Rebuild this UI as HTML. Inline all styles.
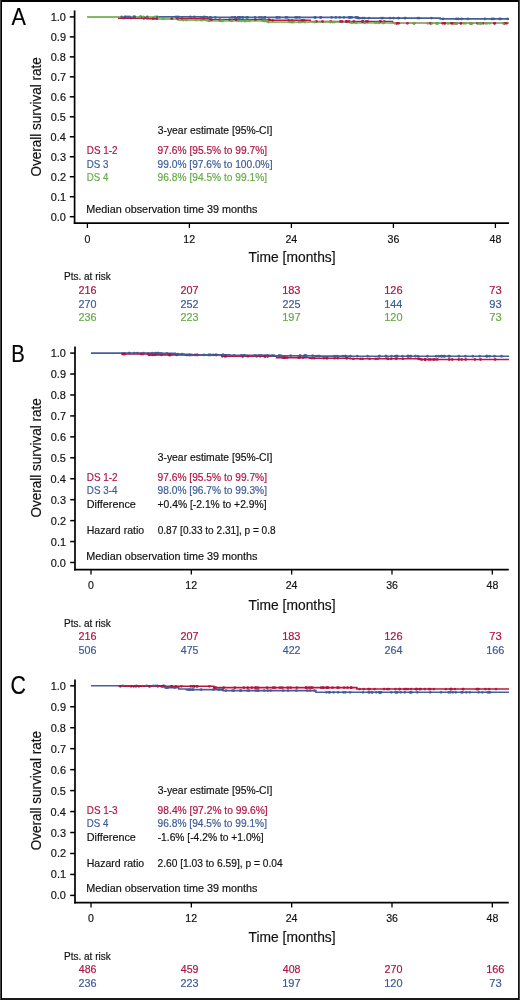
<!DOCTYPE html>
<html><head><meta charset="utf-8"><style>
html,body{margin:0;padding:0;background:#fff;}
body{width:520px;height:1000px;overflow:hidden;position:relative;font-family:"Liberation Sans", sans-serif;}
svg{position:absolute;left:0;top:0;will-change:transform;}
svg text{font-family:"Liberation Sans", sans-serif;stroke:currentColor;stroke-width:0.18px;}
.frame{position:absolute;left:0;top:0;width:516px;height:996px;border:2px solid #000;}
</style></head><body>
<svg width="520" height="1000" viewBox="0 0 520 1000">
<line x1="74.60" y1="10.40" x2="74.60" y2="224.00" stroke="#000" stroke-width="1.7"/>
<line x1="73.80" y1="223.20" x2="509.00" y2="223.20" stroke="#000" stroke-width="1.7"/>
<line x1="69.80" y1="16.90" x2="74.60" y2="16.90" stroke="#000" stroke-width="1.5"/>
<text x="50.69" y="20.90" font-size="11.3" textLength="15.24" lengthAdjust="spacingAndGlyphs" fill="#111" color="#111">1.0</text>
<line x1="69.80" y1="36.88" x2="74.60" y2="36.88" stroke="#000" stroke-width="1.5"/>
<text x="50.78" y="40.88" font-size="11.3" textLength="15.24" lengthAdjust="spacingAndGlyphs" fill="#111" color="#111">0.9</text>
<line x1="69.80" y1="56.86" x2="74.60" y2="56.86" stroke="#000" stroke-width="1.5"/>
<text x="50.74" y="60.86" font-size="11.3" textLength="15.24" lengthAdjust="spacingAndGlyphs" fill="#111" color="#111">0.8</text>
<line x1="69.80" y1="76.84" x2="74.60" y2="76.84" stroke="#000" stroke-width="1.5"/>
<text x="50.81" y="80.84" font-size="11.3" textLength="15.24" lengthAdjust="spacingAndGlyphs" fill="#111" color="#111">0.7</text>
<line x1="69.80" y1="96.82" x2="74.60" y2="96.82" stroke="#000" stroke-width="1.5"/>
<text x="50.75" y="100.82" font-size="11.3" textLength="15.24" lengthAdjust="spacingAndGlyphs" fill="#111" color="#111">0.6</text>
<line x1="69.80" y1="116.80" x2="74.60" y2="116.80" stroke="#000" stroke-width="1.5"/>
<text x="50.72" y="120.80" font-size="11.3" textLength="15.24" lengthAdjust="spacingAndGlyphs" fill="#111" color="#111">0.5</text>
<line x1="69.80" y1="136.78" x2="74.60" y2="136.78" stroke="#000" stroke-width="1.5"/>
<text x="50.58" y="140.78" font-size="11.3" textLength="15.24" lengthAdjust="spacingAndGlyphs" fill="#111" color="#111">0.4</text>
<line x1="69.80" y1="156.76" x2="74.60" y2="156.76" stroke="#000" stroke-width="1.5"/>
<text x="50.75" y="160.76" font-size="11.3" textLength="15.24" lengthAdjust="spacingAndGlyphs" fill="#111" color="#111">0.3</text>
<line x1="69.80" y1="176.74" x2="74.60" y2="176.74" stroke="#000" stroke-width="1.5"/>
<text x="50.81" y="180.74" font-size="11.3" textLength="15.24" lengthAdjust="spacingAndGlyphs" fill="#111" color="#111">0.2</text>
<line x1="69.80" y1="196.72" x2="74.60" y2="196.72" stroke="#000" stroke-width="1.5"/>
<text x="50.80" y="200.72" font-size="11.3" textLength="15.24" lengthAdjust="spacingAndGlyphs" fill="#111" color="#111">0.1</text>
<line x1="69.80" y1="216.70" x2="74.60" y2="216.70" stroke="#000" stroke-width="1.5"/>
<text x="50.69" y="220.70" font-size="11.3" textLength="15.24" lengthAdjust="spacingAndGlyphs" fill="#111" color="#111">0.0</text>
<line x1="87.40" y1="223.20" x2="87.40" y2="228.00" stroke="#000" stroke-width="1.3"/>
<text x="84.45" y="242.80" font-size="11.4" textLength="5.90" lengthAdjust="spacingAndGlyphs" fill="#111" color="#111">0</text>
<line x1="189.40" y1="223.20" x2="189.40" y2="228.00" stroke="#000" stroke-width="1.3"/>
<text x="183.37" y="242.80" font-size="11.4" textLength="11.79" lengthAdjust="spacingAndGlyphs" fill="#111" color="#111">12</text>
<line x1="291.40" y1="223.20" x2="291.40" y2="228.00" stroke="#000" stroke-width="1.3"/>
<text x="285.39" y="242.80" font-size="11.4" textLength="11.79" lengthAdjust="spacingAndGlyphs" fill="#111" color="#111">24</text>
<line x1="393.40" y1="223.20" x2="393.40" y2="228.00" stroke="#000" stroke-width="1.3"/>
<text x="387.54" y="242.80" font-size="11.4" textLength="11.79" lengthAdjust="spacingAndGlyphs" fill="#111" color="#111">36</text>
<line x1="495.40" y1="223.20" x2="495.40" y2="228.00" stroke="#000" stroke-width="1.3"/>
<text x="489.61" y="242.80" font-size="11.4" textLength="11.79" lengthAdjust="spacingAndGlyphs" fill="#111" color="#111">48</text>
<text x="11.46" y="25.20" font-size="24.6" textLength="14.39" lengthAdjust="spacingAndGlyphs" fill="#000" color="#000">A</text>
<text transform="translate(40.90,175.80) rotate(-90)" x="-0.63" y="0" font-size="14.2" textLength="119.23" lengthAdjust="spacingAndGlyphs" fill="#111" color="#111">Overall survival rate</text>
<text x="248.60" y="262.40" font-size="14.0" textLength="86.98" lengthAdjust="spacingAndGlyphs" fill="#111" color="#111">Time [months]</text>
<text x="157.71" y="133.90" font-size="10.7" textLength="114.63" lengthAdjust="spacingAndGlyphs" fill="#111" color="#111">3-year estimate [95%-CI]</text>
<text x="86.79" y="153.70" font-size="10.7" textLength="30.81" lengthAdjust="spacingAndGlyphs" fill="#ad1442" color="#ad1442">DS 1-2</text>
<text x="157.62" y="153.70" font-size="10.7" textLength="109.50" lengthAdjust="spacingAndGlyphs" fill="#ad1442" color="#ad1442">97.6% [95.5% to 99.7%]</text>
<text x="86.80" y="167.50" font-size="10.7" textLength="21.73" lengthAdjust="spacingAndGlyphs" fill="#3c5a96" color="#3c5a96">DS 3</text>
<text x="157.62" y="167.50" font-size="10.7" textLength="114.90" lengthAdjust="spacingAndGlyphs" fill="#3c5a96" color="#3c5a96">99.0% [97.6% to 100.0%]</text>
<text x="86.80" y="181.10" font-size="10.7" textLength="21.58" lengthAdjust="spacingAndGlyphs" fill="#64aa46" color="#64aa46">DS 4</text>
<text x="157.62" y="181.10" font-size="10.7" textLength="109.50" lengthAdjust="spacingAndGlyphs" fill="#64aa46" color="#64aa46">96.8% [94.5% to 99.1%]</text>
<text x="86.31" y="213.10" font-size="10.7" textLength="171.07" lengthAdjust="spacingAndGlyphs" fill="#111" color="#111">Median observation time 39 months</text>
<text x="63.98" y="279.90" font-size="10.6" textLength="46.82" lengthAdjust="spacingAndGlyphs" fill="#111" color="#111">Pts. at risk</text>
<text x="78.46" y="293.60" font-size="10.2" textLength="18.02" lengthAdjust="spacingAndGlyphs" fill="#ad1442" color="#ad1442">216</text>
<text x="180.46" y="293.60" font-size="10.2" textLength="18.09" lengthAdjust="spacingAndGlyphs" fill="#ad1442" color="#ad1442">207</text>
<text x="282.17" y="293.60" font-size="10.2" textLength="18.32" lengthAdjust="spacingAndGlyphs" fill="#ad1442" color="#ad1442">183</text>
<text x="384.27" y="293.60" font-size="10.2" textLength="18.32" lengthAdjust="spacingAndGlyphs" fill="#ad1442" color="#ad1442">126</text>
<text x="489.23" y="293.60" font-size="10.2" textLength="12.47" lengthAdjust="spacingAndGlyphs" fill="#ad1442" color="#ad1442">73</text>
<text x="78.46" y="307.50" font-size="10.2" textLength="17.96" lengthAdjust="spacingAndGlyphs" fill="#3c5a96" color="#3c5a96">270</text>
<text x="180.46" y="307.50" font-size="10.2" textLength="18.09" lengthAdjust="spacingAndGlyphs" fill="#3c5a96" color="#3c5a96">252</text>
<text x="282.46" y="307.50" font-size="10.2" textLength="18.00" lengthAdjust="spacingAndGlyphs" fill="#3c5a96" color="#3c5a96">225</text>
<text x="384.27" y="307.50" font-size="10.2" textLength="18.15" lengthAdjust="spacingAndGlyphs" fill="#3c5a96" color="#3c5a96">144</text>
<text x="489.28" y="307.50" font-size="10.2" textLength="12.42" lengthAdjust="spacingAndGlyphs" fill="#3c5a96" color="#3c5a96">93</text>
<text x="78.46" y="320.50" font-size="10.2" textLength="18.02" lengthAdjust="spacingAndGlyphs" fill="#64aa46" color="#64aa46">236</text>
<text x="180.46" y="320.50" font-size="10.2" textLength="18.02" lengthAdjust="spacingAndGlyphs" fill="#64aa46" color="#64aa46">223</text>
<text x="282.16" y="320.50" font-size="10.2" textLength="18.39" lengthAdjust="spacingAndGlyphs" fill="#64aa46" color="#64aa46">197</text>
<text x="384.27" y="320.50" font-size="10.2" textLength="18.26" lengthAdjust="spacingAndGlyphs" fill="#64aa46" color="#64aa46">120</text>
<text x="489.23" y="320.50" font-size="10.2" textLength="12.47" lengthAdjust="spacingAndGlyphs" fill="#64aa46" color="#64aa46">73</text>
<path d="M118.00,18.10H146.90V18.70H208.10V19.70H270.15V20.30H310.10V21.50H392.55V23.29H509.00V23.29" fill="none" stroke="#c0143c" stroke-width="1.6"/>
<path d="M87.40,16.90H207.25V17.40H357.70V18.10H440.15V18.90H509.00V18.90" fill="none" stroke="#44609b" stroke-width="1.6"/>
<path d="M87.40,16.90H157.95V18.50H178.35V20.10H208.10V20.90H267.60V22.09H350.05V22.89H390.00V23.29H509.00V23.29" fill="none" stroke="#86bb68" stroke-width="1.6"/>
<circle cx="211.49" cy="19.70" r="1.4" fill="#ad1442" fill-opacity="0.85"/>
<circle cx="330.72" cy="21.50" r="1.4" fill="#ad1442" fill-opacity="0.85"/>
<circle cx="262.87" cy="19.70" r="1.4" fill="#ad1442" fill-opacity="0.85"/>
<circle cx="353.96" cy="21.50" r="1.4" fill="#ad1442" fill-opacity="0.85"/>
<circle cx="362.44" cy="21.50" r="1.4" fill="#ad1442" fill-opacity="0.85"/>
<circle cx="144.36" cy="18.10" r="1.4" fill="#ad1442" fill-opacity="0.85"/>
<circle cx="123.98" cy="18.10" r="1.4" fill="#ad1442" fill-opacity="0.85"/>
<circle cx="444.88" cy="23.29" r="1.4" fill="#ad1442" fill-opacity="0.85"/>
<circle cx="219.82" cy="19.70" r="1.4" fill="#ad1442" fill-opacity="0.85"/>
<circle cx="210.08" cy="19.70" r="1.4" fill="#ad1442" fill-opacity="0.85"/>
<circle cx="506.45" cy="23.29" r="1.4" fill="#ad1442" fill-opacity="0.85"/>
<circle cx="301.92" cy="20.30" r="1.4" fill="#ad1442" fill-opacity="0.85"/>
<circle cx="444.48" cy="23.29" r="1.4" fill="#ad1442" fill-opacity="0.85"/>
<circle cx="304.29" cy="20.30" r="1.4" fill="#ad1442" fill-opacity="0.85"/>
<circle cx="367.64" cy="21.50" r="1.4" fill="#ad1442" fill-opacity="0.85"/>
<circle cx="177.48" cy="18.70" r="1.4" fill="#ad1442" fill-opacity="0.85"/>
<circle cx="366.00" cy="21.50" r="1.4" fill="#ad1442" fill-opacity="0.85"/>
<circle cx="456.78" cy="23.29" r="1.4" fill="#ad1442" fill-opacity="0.85"/>
<circle cx="322.52" cy="21.50" r="1.4" fill="#ad1442" fill-opacity="0.85"/>
<circle cx="407.42" cy="23.29" r="1.4" fill="#ad1442" fill-opacity="0.85"/>
<circle cx="380.23" cy="21.50" r="1.4" fill="#ad1442" fill-opacity="0.85"/>
<circle cx="143.78" cy="18.10" r="1.4" fill="#ad1442" fill-opacity="0.85"/>
<circle cx="414.03" cy="23.29" r="1.4" fill="#ad1442" fill-opacity="0.85"/>
<circle cx="348.97" cy="21.50" r="1.4" fill="#ad1442" fill-opacity="0.85"/>
<circle cx="236.13" cy="19.70" r="1.4" fill="#ad1442" fill-opacity="0.85"/>
<circle cx="130.92" cy="18.10" r="1.4" fill="#ad1442" fill-opacity="0.85"/>
<circle cx="455.80" cy="23.29" r="1.4" fill="#ad1442" fill-opacity="0.85"/>
<circle cx="302.89" cy="20.30" r="1.4" fill="#ad1442" fill-opacity="0.85"/>
<circle cx="398.69" cy="23.29" r="1.4" fill="#ad1442" fill-opacity="0.85"/>
<circle cx="460.97" cy="23.29" r="1.4" fill="#ad1442" fill-opacity="0.85"/>
<circle cx="396.86" cy="23.29" r="1.4" fill="#ad1442" fill-opacity="0.85"/>
<circle cx="477.43" cy="23.29" r="1.4" fill="#ad1442" fill-opacity="0.85"/>
<circle cx="272.61" cy="20.30" r="1.4" fill="#ad1442" fill-opacity="0.85"/>
<circle cx="430.64" cy="23.29" r="1.4" fill="#ad1442" fill-opacity="0.85"/>
<circle cx="291.94" cy="20.30" r="1.4" fill="#ad1442" fill-opacity="0.85"/>
<circle cx="483.07" cy="23.29" r="1.4" fill="#ad1442" fill-opacity="0.85"/>
<circle cx="460.99" cy="23.29" r="1.4" fill="#ad1442" fill-opacity="0.85"/>
<circle cx="156.79" cy="18.70" r="1.4" fill="#ad1442" fill-opacity="0.85"/>
<circle cx="171.78" cy="18.70" r="1.4" fill="#ad1442" fill-opacity="0.85"/>
<circle cx="203.32" cy="18.70" r="1.4" fill="#ad1442" fill-opacity="0.85"/>
<circle cx="494.71" cy="23.29" r="1.4" fill="#ad1442" fill-opacity="0.85"/>
<circle cx="288.65" cy="20.30" r="1.4" fill="#ad1442" fill-opacity="0.85"/>
<circle cx="362.80" cy="21.50" r="1.4" fill="#ad1442" fill-opacity="0.85"/>
<circle cx="236.04" cy="19.70" r="1.4" fill="#ad1442" fill-opacity="0.85"/>
<circle cx="316.32" cy="21.50" r="1.4" fill="#ad1442" fill-opacity="0.85"/>
<circle cx="269.07" cy="19.70" r="1.4" fill="#ad1442" fill-opacity="0.85"/>
<circle cx="255.46" cy="19.70" r="1.4" fill="#ad1442" fill-opacity="0.85"/>
<circle cx="346.62" cy="21.50" r="1.4" fill="#ad1442" fill-opacity="0.85"/>
<circle cx="346.30" cy="21.50" r="1.4" fill="#ad1442" fill-opacity="0.85"/>
<circle cx="470.86" cy="23.29" r="1.4" fill="#ad1442" fill-opacity="0.85"/>
<circle cx="384.35" cy="21.50" r="1.4" fill="#ad1442" fill-opacity="0.85"/>
<circle cx="480.49" cy="23.29" r="1.4" fill="#ad1442" fill-opacity="0.85"/>
<circle cx="452.25" cy="23.29" r="1.4" fill="#ad1442" fill-opacity="0.85"/>
<circle cx="504.64" cy="23.29" r="1.4" fill="#ad1442" fill-opacity="0.85"/>
<circle cx="380.18" cy="21.50" r="1.4" fill="#ad1442" fill-opacity="0.85"/>
<circle cx="182.34" cy="18.70" r="1.4" fill="#ad1442" fill-opacity="0.85"/>
<circle cx="453.90" cy="23.29" r="1.4" fill="#ad1442" fill-opacity="0.85"/>
<circle cx="494.38" cy="23.29" r="1.4" fill="#ad1442" fill-opacity="0.85"/>
<circle cx="471.05" cy="23.29" r="1.4" fill="#ad1442" fill-opacity="0.85"/>
<circle cx="340.40" cy="21.50" r="1.4" fill="#ad1442" fill-opacity="0.85"/>
<circle cx="396.74" cy="23.29" r="1.4" fill="#ad1442" fill-opacity="0.85"/>
<circle cx="201.04" cy="18.70" r="1.4" fill="#ad1442" fill-opacity="0.85"/>
<circle cx="442.59" cy="23.29" r="1.4" fill="#ad1442" fill-opacity="0.85"/>
<circle cx="342.13" cy="21.50" r="1.4" fill="#ad1442" fill-opacity="0.85"/>
<circle cx="229.78" cy="19.70" r="1.4" fill="#ad1442" fill-opacity="0.85"/>
<circle cx="143.56" cy="18.10" r="1.4" fill="#ad1442" fill-opacity="0.85"/>
<circle cx="451.29" cy="23.29" r="1.4" fill="#ad1442" fill-opacity="0.85"/>
<circle cx="504.18" cy="23.29" r="1.4" fill="#ad1442" fill-opacity="0.85"/>
<circle cx="153.31" cy="18.70" r="1.4" fill="#ad1442" fill-opacity="0.85"/>
<circle cx="430.52" cy="23.29" r="1.4" fill="#ad1442" fill-opacity="0.85"/>
<circle cx="277.64" cy="17.40" r="1.4" fill="#3c5a96" fill-opacity="0.85"/>
<circle cx="176.10" cy="16.90" r="1.4" fill="#3c5a96" fill-opacity="0.85"/>
<circle cx="232.06" cy="17.40" r="1.4" fill="#3c5a96" fill-opacity="0.85"/>
<circle cx="417.75" cy="18.10" r="1.4" fill="#3c5a96" fill-opacity="0.85"/>
<circle cx="458.40" cy="18.90" r="1.4" fill="#3c5a96" fill-opacity="0.85"/>
<circle cx="134.43" cy="16.90" r="1.4" fill="#3c5a96" fill-opacity="0.85"/>
<circle cx="357.43" cy="17.40" r="1.4" fill="#3c5a96" fill-opacity="0.85"/>
<circle cx="134.72" cy="16.90" r="1.4" fill="#3c5a96" fill-opacity="0.85"/>
<circle cx="398.06" cy="18.10" r="1.4" fill="#3c5a96" fill-opacity="0.85"/>
<circle cx="246.55" cy="17.40" r="1.4" fill="#3c5a96" fill-opacity="0.85"/>
<circle cx="461.58" cy="18.90" r="1.4" fill="#3c5a96" fill-opacity="0.85"/>
<circle cx="500.58" cy="18.90" r="1.4" fill="#3c5a96" fill-opacity="0.85"/>
<circle cx="314.77" cy="17.40" r="1.4" fill="#3c5a96" fill-opacity="0.85"/>
<circle cx="507.57" cy="18.90" r="1.4" fill="#3c5a96" fill-opacity="0.85"/>
<circle cx="238.23" cy="17.40" r="1.4" fill="#3c5a96" fill-opacity="0.85"/>
<circle cx="147.25" cy="16.90" r="1.4" fill="#3c5a96" fill-opacity="0.85"/>
<circle cx="351.66" cy="17.40" r="1.4" fill="#3c5a96" fill-opacity="0.85"/>
<circle cx="129.42" cy="16.90" r="1.4" fill="#3c5a96" fill-opacity="0.85"/>
<circle cx="194.33" cy="16.90" r="1.4" fill="#3c5a96" fill-opacity="0.85"/>
<circle cx="276.65" cy="17.40" r="1.4" fill="#3c5a96" fill-opacity="0.85"/>
<circle cx="355.84" cy="17.40" r="1.4" fill="#3c5a96" fill-opacity="0.85"/>
<circle cx="178.22" cy="16.90" r="1.4" fill="#3c5a96" fill-opacity="0.85"/>
<circle cx="133.74" cy="16.90" r="1.4" fill="#3c5a96" fill-opacity="0.85"/>
<circle cx="456.45" cy="18.90" r="1.4" fill="#3c5a96" fill-opacity="0.85"/>
<circle cx="239.86" cy="17.40" r="1.4" fill="#3c5a96" fill-opacity="0.85"/>
<circle cx="491.99" cy="18.90" r="1.4" fill="#3c5a96" fill-opacity="0.85"/>
<circle cx="467.74" cy="18.90" r="1.4" fill="#3c5a96" fill-opacity="0.85"/>
<circle cx="264.87" cy="17.40" r="1.4" fill="#3c5a96" fill-opacity="0.85"/>
<circle cx="297.17" cy="17.40" r="1.4" fill="#3c5a96" fill-opacity="0.85"/>
<circle cx="320.50" cy="17.40" r="1.4" fill="#3c5a96" fill-opacity="0.85"/>
<circle cx="368.91" cy="18.10" r="1.4" fill="#3c5a96" fill-opacity="0.85"/>
<circle cx="350.05" cy="17.40" r="1.4" fill="#3c5a96" fill-opacity="0.85"/>
<circle cx="335.82" cy="17.40" r="1.4" fill="#3c5a96" fill-opacity="0.85"/>
<circle cx="359.62" cy="18.10" r="1.4" fill="#3c5a96" fill-opacity="0.85"/>
<circle cx="484.93" cy="18.90" r="1.4" fill="#3c5a96" fill-opacity="0.85"/>
<circle cx="315.40" cy="17.40" r="1.4" fill="#3c5a96" fill-opacity="0.85"/>
<circle cx="285.75" cy="17.40" r="1.4" fill="#3c5a96" fill-opacity="0.85"/>
<circle cx="398.79" cy="18.10" r="1.4" fill="#3c5a96" fill-opacity="0.85"/>
<circle cx="210.07" cy="17.40" r="1.4" fill="#3c5a96" fill-opacity="0.85"/>
<circle cx="234.87" cy="17.40" r="1.4" fill="#3c5a96" fill-opacity="0.85"/>
<circle cx="499.47" cy="18.90" r="1.4" fill="#3c5a96" fill-opacity="0.85"/>
<circle cx="320.91" cy="17.40" r="1.4" fill="#3c5a96" fill-opacity="0.85"/>
<circle cx="331.59" cy="17.40" r="1.4" fill="#3c5a96" fill-opacity="0.85"/>
<circle cx="121.63" cy="16.90" r="1.4" fill="#3c5a96" fill-opacity="0.85"/>
<circle cx="279.50" cy="17.40" r="1.4" fill="#3c5a96" fill-opacity="0.85"/>
<circle cx="343.92" cy="17.40" r="1.4" fill="#3c5a96" fill-opacity="0.85"/>
<circle cx="124.99" cy="16.90" r="1.4" fill="#3c5a96" fill-opacity="0.85"/>
<circle cx="357.93" cy="18.10" r="1.4" fill="#3c5a96" fill-opacity="0.85"/>
<circle cx="364.33" cy="18.10" r="1.4" fill="#3c5a96" fill-opacity="0.85"/>
<circle cx="140.64" cy="16.90" r="1.4" fill="#3c5a96" fill-opacity="0.85"/>
<circle cx="362.44" cy="18.10" r="1.4" fill="#3c5a96" fill-opacity="0.85"/>
<circle cx="299.45" cy="17.40" r="1.4" fill="#3c5a96" fill-opacity="0.85"/>
<circle cx="382.75" cy="18.10" r="1.4" fill="#3c5a96" fill-opacity="0.85"/>
<circle cx="255.01" cy="17.40" r="1.4" fill="#3c5a96" fill-opacity="0.85"/>
<circle cx="393.57" cy="18.10" r="1.4" fill="#3c5a96" fill-opacity="0.85"/>
<circle cx="405.72" cy="18.10" r="1.4" fill="#3c5a96" fill-opacity="0.85"/>
<circle cx="125.82" cy="16.90" r="1.4" fill="#3c5a96" fill-opacity="0.85"/>
<circle cx="140.84" cy="16.90" r="1.4" fill="#3c5a96" fill-opacity="0.85"/>
<circle cx="381.47" cy="18.10" r="1.4" fill="#3c5a96" fill-opacity="0.85"/>
<circle cx="493.80" cy="18.90" r="1.4" fill="#3c5a96" fill-opacity="0.85"/>
<circle cx="215.34" cy="17.40" r="1.4" fill="#3c5a96" fill-opacity="0.85"/>
<circle cx="295.57" cy="17.40" r="1.4" fill="#3c5a96" fill-opacity="0.85"/>
<circle cx="348.88" cy="17.40" r="1.4" fill="#3c5a96" fill-opacity="0.85"/>
<circle cx="242.28" cy="17.40" r="1.4" fill="#3c5a96" fill-opacity="0.85"/>
<circle cx="259.46" cy="17.40" r="1.4" fill="#3c5a96" fill-opacity="0.85"/>
<circle cx="239.40" cy="17.40" r="1.4" fill="#3c5a96" fill-opacity="0.85"/>
<circle cx="261.49" cy="17.40" r="1.4" fill="#3c5a96" fill-opacity="0.85"/>
<circle cx="350.04" cy="17.40" r="1.4" fill="#3c5a96" fill-opacity="0.85"/>
<circle cx="234.61" cy="17.40" r="1.4" fill="#3c5a96" fill-opacity="0.85"/>
<circle cx="264.62" cy="17.40" r="1.4" fill="#3c5a96" fill-opacity="0.85"/>
<circle cx="419.11" cy="18.10" r="1.4" fill="#3c5a96" fill-opacity="0.85"/>
<circle cx="127.68" cy="16.90" r="1.4" fill="#3c5a96" fill-opacity="0.85"/>
<circle cx="339.73" cy="17.40" r="1.4" fill="#3c5a96" fill-opacity="0.85"/>
<circle cx="404.60" cy="18.10" r="1.4" fill="#3c5a96" fill-opacity="0.85"/>
<circle cx="238.37" cy="17.40" r="1.4" fill="#3c5a96" fill-opacity="0.85"/>
<circle cx="204.16" cy="16.90" r="1.4" fill="#3c5a96" fill-opacity="0.85"/>
<circle cx="431.44" cy="18.10" r="1.4" fill="#3c5a96" fill-opacity="0.85"/>
<circle cx="210.48" cy="17.40" r="1.4" fill="#3c5a96" fill-opacity="0.85"/>
<circle cx="190.42" cy="16.90" r="1.4" fill="#3c5a96" fill-opacity="0.85"/>
<circle cx="287.33" cy="17.40" r="1.4" fill="#3c5a96" fill-opacity="0.85"/>
<circle cx="390.09" cy="18.10" r="1.4" fill="#3c5a96" fill-opacity="0.85"/>
<circle cx="156.97" cy="16.90" r="1.4" fill="#3c5a96" fill-opacity="0.85"/>
<circle cx="243.04" cy="17.40" r="1.4" fill="#3c5a96" fill-opacity="0.85"/>
<circle cx="247.65" cy="17.40" r="1.4" fill="#3c5a96" fill-opacity="0.85"/>
<circle cx="443.06" cy="18.90" r="1.4" fill="#3c5a96" fill-opacity="0.85"/>
<circle cx="300.51" cy="22.09" r="1.4" fill="#64aa46" fill-opacity="0.85"/>
<circle cx="454.73" cy="23.29" r="1.4" fill="#64aa46" fill-opacity="0.85"/>
<circle cx="200.99" cy="20.10" r="1.4" fill="#64aa46" fill-opacity="0.85"/>
<circle cx="262.90" cy="20.90" r="1.4" fill="#64aa46" fill-opacity="0.85"/>
<circle cx="378.82" cy="22.89" r="1.4" fill="#64aa46" fill-opacity="0.85"/>
<circle cx="465.59" cy="23.29" r="1.4" fill="#64aa46" fill-opacity="0.85"/>
<circle cx="305.20" cy="22.09" r="1.4" fill="#64aa46" fill-opacity="0.85"/>
<circle cx="221.60" cy="20.90" r="1.4" fill="#64aa46" fill-opacity="0.85"/>
<circle cx="183.11" cy="20.10" r="1.4" fill="#64aa46" fill-opacity="0.85"/>
<circle cx="334.23" cy="22.09" r="1.4" fill="#64aa46" fill-opacity="0.85"/>
<circle cx="208.95" cy="20.90" r="1.4" fill="#64aa46" fill-opacity="0.85"/>
<circle cx="436.71" cy="23.29" r="1.4" fill="#64aa46" fill-opacity="0.85"/>
<circle cx="448.43" cy="23.29" r="1.4" fill="#64aa46" fill-opacity="0.85"/>
<circle cx="206.28" cy="20.10" r="1.4" fill="#64aa46" fill-opacity="0.85"/>
<circle cx="241.41" cy="20.90" r="1.4" fill="#64aa46" fill-opacity="0.85"/>
<circle cx="436.87" cy="23.29" r="1.4" fill="#64aa46" fill-opacity="0.85"/>
<circle cx="375.76" cy="22.89" r="1.4" fill="#64aa46" fill-opacity="0.85"/>
<circle cx="436.51" cy="23.29" r="1.4" fill="#64aa46" fill-opacity="0.85"/>
<circle cx="266.07" cy="20.90" r="1.4" fill="#64aa46" fill-opacity="0.85"/>
<circle cx="186.35" cy="20.10" r="1.4" fill="#64aa46" fill-opacity="0.85"/>
<circle cx="246.35" cy="20.90" r="1.4" fill="#64aa46" fill-opacity="0.85"/>
<circle cx="431.93" cy="23.29" r="1.4" fill="#64aa46" fill-opacity="0.85"/>
<circle cx="238.67" cy="20.90" r="1.4" fill="#64aa46" fill-opacity="0.85"/>
<circle cx="266.46" cy="20.90" r="1.4" fill="#64aa46" fill-opacity="0.85"/>
<circle cx="292.55" cy="22.09" r="1.4" fill="#64aa46" fill-opacity="0.85"/>
<circle cx="293.61" cy="22.09" r="1.4" fill="#64aa46" fill-opacity="0.85"/>
<circle cx="289.82" cy="22.09" r="1.4" fill="#64aa46" fill-opacity="0.85"/>
<circle cx="478.80" cy="23.29" r="1.4" fill="#64aa46" fill-opacity="0.85"/>
<circle cx="196.08" cy="20.10" r="1.4" fill="#64aa46" fill-opacity="0.85"/>
<circle cx="140.12" cy="16.90" r="1.4" fill="#64aa46" fill-opacity="0.85"/>
<circle cx="487.17" cy="23.29" r="1.4" fill="#64aa46" fill-opacity="0.85"/>
<circle cx="463.77" cy="23.29" r="1.4" fill="#64aa46" fill-opacity="0.85"/>
<circle cx="503.31" cy="23.29" r="1.4" fill="#64aa46" fill-opacity="0.85"/>
<circle cx="299.00" cy="22.09" r="1.4" fill="#64aa46" fill-opacity="0.85"/>
<circle cx="489.72" cy="23.29" r="1.4" fill="#64aa46" fill-opacity="0.85"/>
<circle cx="481.30" cy="23.29" r="1.4" fill="#64aa46" fill-opacity="0.85"/>
<circle cx="220.52" cy="20.90" r="1.4" fill="#64aa46" fill-opacity="0.85"/>
<circle cx="414.06" cy="23.29" r="1.4" fill="#64aa46" fill-opacity="0.85"/>
<circle cx="447.77" cy="23.29" r="1.4" fill="#64aa46" fill-opacity="0.85"/>
<circle cx="383.54" cy="22.89" r="1.4" fill="#64aa46" fill-opacity="0.85"/>
<circle cx="330.31" cy="22.09" r="1.4" fill="#64aa46" fill-opacity="0.85"/>
<circle cx="245.27" cy="20.90" r="1.4" fill="#64aa46" fill-opacity="0.85"/>
<circle cx="264.51" cy="20.90" r="1.4" fill="#64aa46" fill-opacity="0.85"/>
<circle cx="222.51" cy="20.90" r="1.4" fill="#64aa46" fill-opacity="0.85"/>
<circle cx="163.57" cy="18.50" r="1.4" fill="#64aa46" fill-opacity="0.85"/>
<circle cx="356.06" cy="22.89" r="1.4" fill="#64aa46" fill-opacity="0.85"/>
<circle cx="244.52" cy="20.90" r="1.4" fill="#64aa46" fill-opacity="0.85"/>
<circle cx="437.97" cy="23.29" r="1.4" fill="#64aa46" fill-opacity="0.85"/>
<circle cx="155.07" cy="16.90" r="1.4" fill="#64aa46" fill-opacity="0.85"/>
<circle cx="472.51" cy="23.29" r="1.4" fill="#64aa46" fill-opacity="0.85"/>
<circle cx="394.90" cy="23.29" r="1.4" fill="#64aa46" fill-opacity="0.85"/>
<circle cx="480.00" cy="23.29" r="1.4" fill="#64aa46" fill-opacity="0.85"/>
<circle cx="469.91" cy="23.29" r="1.4" fill="#64aa46" fill-opacity="0.85"/>
<circle cx="471.05" cy="23.29" r="1.4" fill="#64aa46" fill-opacity="0.85"/>
<circle cx="351.73" cy="22.89" r="1.4" fill="#64aa46" fill-opacity="0.85"/>
<circle cx="143.26" cy="16.90" r="1.4" fill="#64aa46" fill-opacity="0.85"/>
<circle cx="413.97" cy="23.29" r="1.4" fill="#64aa46" fill-opacity="0.85"/>
<circle cx="201.93" cy="20.10" r="1.4" fill="#64aa46" fill-opacity="0.85"/>
<circle cx="249.28" cy="20.90" r="1.4" fill="#64aa46" fill-opacity="0.85"/>
<circle cx="383.51" cy="22.89" r="1.4" fill="#64aa46" fill-opacity="0.85"/>
<circle cx="332.51" cy="22.09" r="1.4" fill="#64aa46" fill-opacity="0.85"/>
<circle cx="291.38" cy="22.09" r="1.4" fill="#64aa46" fill-opacity="0.85"/>
<circle cx="485.61" cy="23.29" r="1.4" fill="#64aa46" fill-opacity="0.85"/>
<circle cx="364.75" cy="22.89" r="1.4" fill="#64aa46" fill-opacity="0.85"/>
<circle cx="264.62" cy="20.90" r="1.4" fill="#64aa46" fill-opacity="0.85"/>
<circle cx="231.75" cy="20.90" r="1.4" fill="#64aa46" fill-opacity="0.85"/>
<circle cx="457.00" cy="23.29" r="1.4" fill="#64aa46" fill-opacity="0.85"/>
<circle cx="314.84" cy="22.09" r="1.4" fill="#64aa46" fill-opacity="0.85"/>
<circle cx="427.66" cy="23.29" r="1.4" fill="#64aa46" fill-opacity="0.85"/>
<circle cx="268.49" cy="22.09" r="1.4" fill="#64aa46" fill-opacity="0.85"/>
<line x1="75.00" y1="346.50" x2="75.00" y2="570.50" stroke="#000" stroke-width="1.7"/>
<line x1="74.20" y1="569.70" x2="508.80" y2="569.70" stroke="#000" stroke-width="1.7"/>
<line x1="70.20" y1="353.10" x2="75.00" y2="353.10" stroke="#000" stroke-width="1.5"/>
<text x="50.69" y="357.10" font-size="11.3" textLength="15.24" lengthAdjust="spacingAndGlyphs" fill="#111" color="#111">1.0</text>
<line x1="70.20" y1="374.04" x2="75.00" y2="374.04" stroke="#000" stroke-width="1.5"/>
<text x="50.78" y="378.04" font-size="11.3" textLength="15.24" lengthAdjust="spacingAndGlyphs" fill="#111" color="#111">0.9</text>
<line x1="70.20" y1="394.98" x2="75.00" y2="394.98" stroke="#000" stroke-width="1.5"/>
<text x="50.74" y="398.98" font-size="11.3" textLength="15.24" lengthAdjust="spacingAndGlyphs" fill="#111" color="#111">0.8</text>
<line x1="70.20" y1="415.92" x2="75.00" y2="415.92" stroke="#000" stroke-width="1.5"/>
<text x="50.81" y="419.92" font-size="11.3" textLength="15.24" lengthAdjust="spacingAndGlyphs" fill="#111" color="#111">0.7</text>
<line x1="70.20" y1="436.86" x2="75.00" y2="436.86" stroke="#000" stroke-width="1.5"/>
<text x="50.75" y="440.86" font-size="11.3" textLength="15.24" lengthAdjust="spacingAndGlyphs" fill="#111" color="#111">0.6</text>
<line x1="70.20" y1="457.80" x2="75.00" y2="457.80" stroke="#000" stroke-width="1.5"/>
<text x="50.72" y="461.80" font-size="11.3" textLength="15.24" lengthAdjust="spacingAndGlyphs" fill="#111" color="#111">0.5</text>
<line x1="70.20" y1="478.74" x2="75.00" y2="478.74" stroke="#000" stroke-width="1.5"/>
<text x="50.58" y="482.74" font-size="11.3" textLength="15.24" lengthAdjust="spacingAndGlyphs" fill="#111" color="#111">0.4</text>
<line x1="70.20" y1="499.68" x2="75.00" y2="499.68" stroke="#000" stroke-width="1.5"/>
<text x="50.75" y="503.68" font-size="11.3" textLength="15.24" lengthAdjust="spacingAndGlyphs" fill="#111" color="#111">0.3</text>
<line x1="70.20" y1="520.62" x2="75.00" y2="520.62" stroke="#000" stroke-width="1.5"/>
<text x="50.81" y="524.62" font-size="11.3" textLength="15.24" lengthAdjust="spacingAndGlyphs" fill="#111" color="#111">0.2</text>
<line x1="70.20" y1="541.56" x2="75.00" y2="541.56" stroke="#000" stroke-width="1.5"/>
<text x="50.80" y="545.56" font-size="11.3" textLength="15.24" lengthAdjust="spacingAndGlyphs" fill="#111" color="#111">0.1</text>
<line x1="70.20" y1="562.50" x2="75.00" y2="562.50" stroke="#000" stroke-width="1.5"/>
<text x="50.69" y="566.50" font-size="11.3" textLength="15.24" lengthAdjust="spacingAndGlyphs" fill="#111" color="#111">0.0</text>
<line x1="91.00" y1="569.70" x2="91.00" y2="574.50" stroke="#000" stroke-width="1.3"/>
<text x="88.05" y="589.00" font-size="11.4" textLength="5.90" lengthAdjust="spacingAndGlyphs" fill="#111" color="#111">0</text>
<line x1="191.33" y1="569.70" x2="191.33" y2="574.50" stroke="#000" stroke-width="1.3"/>
<text x="185.30" y="589.00" font-size="11.4" textLength="11.79" lengthAdjust="spacingAndGlyphs" fill="#111" color="#111">12</text>
<line x1="291.66" y1="569.70" x2="291.66" y2="574.50" stroke="#000" stroke-width="1.3"/>
<text x="285.65" y="589.00" font-size="11.4" textLength="11.79" lengthAdjust="spacingAndGlyphs" fill="#111" color="#111">24</text>
<line x1="391.99" y1="569.70" x2="391.99" y2="574.50" stroke="#000" stroke-width="1.3"/>
<text x="386.13" y="589.00" font-size="11.4" textLength="11.79" lengthAdjust="spacingAndGlyphs" fill="#111" color="#111">36</text>
<line x1="492.32" y1="569.70" x2="492.32" y2="574.50" stroke="#000" stroke-width="1.3"/>
<text x="486.53" y="589.00" font-size="11.4" textLength="11.79" lengthAdjust="spacingAndGlyphs" fill="#111" color="#111">48</text>
<text x="11.14" y="361.60" font-size="24.6" textLength="13.54" lengthAdjust="spacingAndGlyphs" fill="#000" color="#000">B</text>
<text transform="translate(40.90,516.80) rotate(-90)" x="-0.63" y="0" font-size="14.2" textLength="119.23" lengthAdjust="spacingAndGlyphs" fill="#111" color="#111">Overall survival rate</text>
<text x="248.60" y="609.70" font-size="14.0" textLength="86.98" lengthAdjust="spacingAndGlyphs" fill="#111" color="#111">Time [months]</text>
<text x="157.71" y="461.20" font-size="10.7" textLength="114.63" lengthAdjust="spacingAndGlyphs" fill="#111" color="#111">3-year estimate [95%-CI]</text>
<text x="86.79" y="480.80" font-size="10.7" textLength="30.81" lengthAdjust="spacingAndGlyphs" fill="#ad1442" color="#ad1442">DS 1-2</text>
<text x="157.62" y="480.80" font-size="10.7" textLength="109.40" lengthAdjust="spacingAndGlyphs" fill="#ad1442" color="#ad1442">97.6% [95.5% to 99.7%]</text>
<text x="86.79" y="494.20" font-size="10.7" textLength="30.59" lengthAdjust="spacingAndGlyphs" fill="#3c5a96" color="#3c5a96">DS 3-4</text>
<text x="157.62" y="494.20" font-size="10.7" textLength="109.40" lengthAdjust="spacingAndGlyphs" fill="#3c5a96" color="#3c5a96">98.0% [96.7% to 99.3%]</text>
<text x="86.71" y="507.70" font-size="10.7" textLength="49.17" lengthAdjust="spacingAndGlyphs" fill="#111" color="#111">Difference</text>
<text x="157.59" y="507.70" font-size="10.7" textLength="108.94" lengthAdjust="spacingAndGlyphs" fill="#111" color="#111">+0.4% [-2.1% to +2.9%]</text>
<text x="86.74" y="533.70" font-size="10.7" textLength="57.40" lengthAdjust="spacingAndGlyphs" fill="#111" color="#111">Hazard ratio</text>
<text x="157.71" y="533.70" font-size="10.7" textLength="117.93" lengthAdjust="spacingAndGlyphs" fill="#111" color="#111">0.87 [0.33 to 2.31], p = 0.8</text>
<text x="86.31" y="559.60" font-size="10.7" textLength="171.07" lengthAdjust="spacingAndGlyphs" fill="#111" color="#111">Median observation time 39 months</text>
<text x="63.98" y="626.80" font-size="10.6" textLength="46.82" lengthAdjust="spacingAndGlyphs" fill="#111" color="#111">Pts. at risk</text>
<text x="78.46" y="640.20" font-size="10.2" textLength="18.02" lengthAdjust="spacingAndGlyphs" fill="#ad1442" color="#ad1442">216</text>
<text x="180.46" y="640.20" font-size="10.2" textLength="18.09" lengthAdjust="spacingAndGlyphs" fill="#ad1442" color="#ad1442">207</text>
<text x="282.17" y="640.20" font-size="10.2" textLength="18.32" lengthAdjust="spacingAndGlyphs" fill="#ad1442" color="#ad1442">183</text>
<text x="384.27" y="640.20" font-size="10.2" textLength="18.32" lengthAdjust="spacingAndGlyphs" fill="#ad1442" color="#ad1442">126</text>
<text x="489.23" y="640.20" font-size="10.2" textLength="12.47" lengthAdjust="spacingAndGlyphs" fill="#ad1442" color="#ad1442">73</text>
<text x="78.57" y="653.80" font-size="10.2" textLength="17.91" lengthAdjust="spacingAndGlyphs" fill="#3c5a96" color="#3c5a96">506</text>
<text x="180.76" y="653.80" font-size="10.2" textLength="17.69" lengthAdjust="spacingAndGlyphs" fill="#3c5a96" color="#3c5a96">475</text>
<text x="282.75" y="653.80" font-size="10.2" textLength="17.78" lengthAdjust="spacingAndGlyphs" fill="#3c5a96" color="#3c5a96">422</text>
<text x="384.57" y="653.80" font-size="10.2" textLength="17.85" lengthAdjust="spacingAndGlyphs" fill="#3c5a96" color="#3c5a96">264</text>
<text x="486.17" y="653.80" font-size="10.2" textLength="18.32" lengthAdjust="spacingAndGlyphs" fill="#3c5a96" color="#3c5a96">166</text>
<path d="M121.52,354.00H148.69V354.90H222.27V356.24H276.61V357.60H310.05V358.21H350.19V358.80H420.42V359.51H509.04V359.51" fill="none" stroke="#c0143c" stroke-width="1.6"/>
<path d="M91.00,353.10H159.98V353.41H175.03V354.15H184.64V354.88H229.79V355.30H269.92V355.70H315.07V356.09H350.19V356.24H509.04V356.24" fill="none" stroke="#44609b" stroke-width="1.6"/>
<circle cx="197.50" cy="354.90" r="1.4" fill="#ad1442" fill-opacity="0.85"/>
<circle cx="326.66" cy="358.21" r="1.4" fill="#ad1442" fill-opacity="0.85"/>
<circle cx="434.71" cy="359.51" r="1.4" fill="#ad1442" fill-opacity="0.85"/>
<circle cx="187.53" cy="354.90" r="1.4" fill="#ad1442" fill-opacity="0.85"/>
<circle cx="425.09" cy="359.51" r="1.4" fill="#ad1442" fill-opacity="0.85"/>
<circle cx="474.90" cy="359.51" r="1.4" fill="#ad1442" fill-opacity="0.85"/>
<circle cx="430.59" cy="359.51" r="1.4" fill="#ad1442" fill-opacity="0.85"/>
<circle cx="437.27" cy="359.51" r="1.4" fill="#ad1442" fill-opacity="0.85"/>
<circle cx="124.81" cy="354.00" r="1.4" fill="#ad1442" fill-opacity="0.85"/>
<circle cx="362.65" cy="358.80" r="1.4" fill="#ad1442" fill-opacity="0.85"/>
<circle cx="452.23" cy="359.51" r="1.4" fill="#ad1442" fill-opacity="0.85"/>
<circle cx="141.06" cy="354.00" r="1.4" fill="#ad1442" fill-opacity="0.85"/>
<circle cx="225.86" cy="356.24" r="1.4" fill="#ad1442" fill-opacity="0.85"/>
<circle cx="224.78" cy="356.24" r="1.4" fill="#ad1442" fill-opacity="0.85"/>
<circle cx="323.84" cy="358.21" r="1.4" fill="#ad1442" fill-opacity="0.85"/>
<circle cx="283.91" cy="357.60" r="1.4" fill="#ad1442" fill-opacity="0.85"/>
<circle cx="303.02" cy="357.60" r="1.4" fill="#ad1442" fill-opacity="0.85"/>
<circle cx="419.28" cy="358.80" r="1.4" fill="#ad1442" fill-opacity="0.85"/>
<circle cx="122.63" cy="354.00" r="1.4" fill="#ad1442" fill-opacity="0.85"/>
<circle cx="142.93" cy="354.00" r="1.4" fill="#ad1442" fill-opacity="0.85"/>
<circle cx="170.51" cy="354.90" r="1.4" fill="#ad1442" fill-opacity="0.85"/>
<circle cx="169.66" cy="354.90" r="1.4" fill="#ad1442" fill-opacity="0.85"/>
<circle cx="148.13" cy="354.00" r="1.4" fill="#ad1442" fill-opacity="0.85"/>
<circle cx="495.17" cy="359.51" r="1.4" fill="#ad1442" fill-opacity="0.85"/>
<circle cx="449.13" cy="359.51" r="1.4" fill="#ad1442" fill-opacity="0.85"/>
<circle cx="154.92" cy="354.90" r="1.4" fill="#ad1442" fill-opacity="0.85"/>
<circle cx="314.21" cy="358.21" r="1.4" fill="#ad1442" fill-opacity="0.85"/>
<circle cx="242.90" cy="356.24" r="1.4" fill="#ad1442" fill-opacity="0.85"/>
<circle cx="242.40" cy="356.24" r="1.4" fill="#ad1442" fill-opacity="0.85"/>
<circle cx="256.45" cy="356.24" r="1.4" fill="#ad1442" fill-opacity="0.85"/>
<circle cx="369.66" cy="358.80" r="1.4" fill="#ad1442" fill-opacity="0.85"/>
<circle cx="346.56" cy="358.21" r="1.4" fill="#ad1442" fill-opacity="0.85"/>
<circle cx="260.11" cy="356.24" r="1.4" fill="#ad1442" fill-opacity="0.85"/>
<circle cx="195.11" cy="354.90" r="1.4" fill="#ad1442" fill-opacity="0.85"/>
<circle cx="247.83" cy="356.24" r="1.4" fill="#ad1442" fill-opacity="0.85"/>
<circle cx="169.32" cy="354.90" r="1.4" fill="#ad1442" fill-opacity="0.85"/>
<circle cx="334.66" cy="358.21" r="1.4" fill="#ad1442" fill-opacity="0.85"/>
<circle cx="396.13" cy="358.80" r="1.4" fill="#ad1442" fill-opacity="0.85"/>
<circle cx="267.54" cy="356.24" r="1.4" fill="#ad1442" fill-opacity="0.85"/>
<circle cx="152.53" cy="354.90" r="1.4" fill="#ad1442" fill-opacity="0.85"/>
<circle cx="190.31" cy="354.90" r="1.4" fill="#ad1442" fill-opacity="0.85"/>
<circle cx="264.87" cy="356.24" r="1.4" fill="#ad1442" fill-opacity="0.85"/>
<circle cx="353.39" cy="358.80" r="1.4" fill="#ad1442" fill-opacity="0.85"/>
<circle cx="421.62" cy="359.51" r="1.4" fill="#ad1442" fill-opacity="0.85"/>
<circle cx="267.55" cy="356.24" r="1.4" fill="#ad1442" fill-opacity="0.85"/>
<circle cx="428.72" cy="359.51" r="1.4" fill="#ad1442" fill-opacity="0.85"/>
<circle cx="360.47" cy="358.80" r="1.4" fill="#ad1442" fill-opacity="0.85"/>
<circle cx="287.20" cy="357.60" r="1.4" fill="#ad1442" fill-opacity="0.85"/>
<circle cx="264.54" cy="356.24" r="1.4" fill="#ad1442" fill-opacity="0.85"/>
<circle cx="311.92" cy="358.21" r="1.4" fill="#ad1442" fill-opacity="0.85"/>
<circle cx="391.09" cy="358.80" r="1.4" fill="#ad1442" fill-opacity="0.85"/>
<circle cx="282.96" cy="357.60" r="1.4" fill="#ad1442" fill-opacity="0.85"/>
<circle cx="387.73" cy="358.80" r="1.4" fill="#ad1442" fill-opacity="0.85"/>
<circle cx="298.40" cy="357.60" r="1.4" fill="#ad1442" fill-opacity="0.85"/>
<circle cx="215.78" cy="354.90" r="1.4" fill="#ad1442" fill-opacity="0.85"/>
<circle cx="327.12" cy="358.21" r="1.4" fill="#ad1442" fill-opacity="0.85"/>
<circle cx="388.13" cy="358.80" r="1.4" fill="#ad1442" fill-opacity="0.85"/>
<circle cx="149.35" cy="354.90" r="1.4" fill="#ad1442" fill-opacity="0.85"/>
<circle cx="284.64" cy="357.60" r="1.4" fill="#ad1442" fill-opacity="0.85"/>
<circle cx="285.01" cy="357.60" r="1.4" fill="#ad1442" fill-opacity="0.85"/>
<circle cx="458.78" cy="359.51" r="1.4" fill="#ad1442" fill-opacity="0.85"/>
<circle cx="480.54" cy="359.51" r="1.4" fill="#ad1442" fill-opacity="0.85"/>
<circle cx="265.24" cy="356.24" r="1.4" fill="#ad1442" fill-opacity="0.85"/>
<circle cx="465.75" cy="359.51" r="1.4" fill="#ad1442" fill-opacity="0.85"/>
<circle cx="424.80" cy="359.51" r="1.4" fill="#ad1442" fill-opacity="0.85"/>
<circle cx="222.33" cy="356.24" r="1.4" fill="#ad1442" fill-opacity="0.85"/>
<circle cx="299.67" cy="357.60" r="1.4" fill="#ad1442" fill-opacity="0.85"/>
<circle cx="169.09" cy="354.90" r="1.4" fill="#ad1442" fill-opacity="0.85"/>
<circle cx="433.34" cy="359.51" r="1.4" fill="#ad1442" fill-opacity="0.85"/>
<circle cx="375.54" cy="358.80" r="1.4" fill="#ad1442" fill-opacity="0.85"/>
<circle cx="461.72" cy="359.51" r="1.4" fill="#ad1442" fill-opacity="0.85"/>
<circle cx="425.39" cy="359.51" r="1.4" fill="#ad1442" fill-opacity="0.85"/>
<circle cx="377.56" cy="358.80" r="1.4" fill="#ad1442" fill-opacity="0.85"/>
<circle cx="402.90" cy="358.80" r="1.4" fill="#ad1442" fill-opacity="0.85"/>
<circle cx="337.85" cy="358.21" r="1.4" fill="#ad1442" fill-opacity="0.85"/>
<circle cx="161.43" cy="354.90" r="1.4" fill="#ad1442" fill-opacity="0.85"/>
<circle cx="347.00" cy="358.21" r="1.4" fill="#ad1442" fill-opacity="0.85"/>
<circle cx="123.81" cy="354.00" r="1.4" fill="#ad1442" fill-opacity="0.85"/>
<circle cx="176.89" cy="354.90" r="1.4" fill="#ad1442" fill-opacity="0.85"/>
<circle cx="418.44" cy="358.80" r="1.4" fill="#ad1442" fill-opacity="0.85"/>
<circle cx="137.31" cy="353.10" r="1.4" fill="#3c5a96" fill-opacity="0.85"/>
<circle cx="155.57" cy="353.10" r="1.4" fill="#3c5a96" fill-opacity="0.85"/>
<circle cx="158.45" cy="353.10" r="1.4" fill="#3c5a96" fill-opacity="0.85"/>
<circle cx="458.89" cy="356.24" r="1.4" fill="#3c5a96" fill-opacity="0.85"/>
<circle cx="189.17" cy="354.88" r="1.4" fill="#3c5a96" fill-opacity="0.85"/>
<circle cx="129.30" cy="353.10" r="1.4" fill="#3c5a96" fill-opacity="0.85"/>
<circle cx="443.92" cy="356.24" r="1.4" fill="#3c5a96" fill-opacity="0.85"/>
<circle cx="166.91" cy="353.41" r="1.4" fill="#3c5a96" fill-opacity="0.85"/>
<circle cx="444.84" cy="356.24" r="1.4" fill="#3c5a96" fill-opacity="0.85"/>
<circle cx="379.30" cy="356.24" r="1.4" fill="#3c5a96" fill-opacity="0.85"/>
<circle cx="441.86" cy="356.24" r="1.4" fill="#3c5a96" fill-opacity="0.85"/>
<circle cx="486.56" cy="356.24" r="1.4" fill="#3c5a96" fill-opacity="0.85"/>
<circle cx="342.97" cy="356.09" r="1.4" fill="#3c5a96" fill-opacity="0.85"/>
<circle cx="427.46" cy="356.24" r="1.4" fill="#3c5a96" fill-opacity="0.85"/>
<circle cx="134.21" cy="353.10" r="1.4" fill="#3c5a96" fill-opacity="0.85"/>
<circle cx="415.41" cy="356.24" r="1.4" fill="#3c5a96" fill-opacity="0.85"/>
<circle cx="316.92" cy="356.09" r="1.4" fill="#3c5a96" fill-opacity="0.85"/>
<circle cx="395.31" cy="356.24" r="1.4" fill="#3c5a96" fill-opacity="0.85"/>
<circle cx="161.32" cy="353.41" r="1.4" fill="#3c5a96" fill-opacity="0.85"/>
<circle cx="408.31" cy="356.24" r="1.4" fill="#3c5a96" fill-opacity="0.85"/>
<circle cx="479.69" cy="356.24" r="1.4" fill="#3c5a96" fill-opacity="0.85"/>
<circle cx="143.78" cy="353.10" r="1.4" fill="#3c5a96" fill-opacity="0.85"/>
<circle cx="244.97" cy="355.30" r="1.4" fill="#3c5a96" fill-opacity="0.85"/>
<circle cx="337.17" cy="356.09" r="1.4" fill="#3c5a96" fill-opacity="0.85"/>
<circle cx="438.73" cy="356.24" r="1.4" fill="#3c5a96" fill-opacity="0.85"/>
<circle cx="213.38" cy="354.88" r="1.4" fill="#3c5a96" fill-opacity="0.85"/>
<circle cx="189.40" cy="354.88" r="1.4" fill="#3c5a96" fill-opacity="0.85"/>
<circle cx="216.40" cy="354.88" r="1.4" fill="#3c5a96" fill-opacity="0.85"/>
<circle cx="357.17" cy="356.24" r="1.4" fill="#3c5a96" fill-opacity="0.85"/>
<circle cx="410.07" cy="356.24" r="1.4" fill="#3c5a96" fill-opacity="0.85"/>
<circle cx="271.69" cy="355.70" r="1.4" fill="#3c5a96" fill-opacity="0.85"/>
<circle cx="261.59" cy="355.30" r="1.4" fill="#3c5a96" fill-opacity="0.85"/>
<circle cx="272.81" cy="355.70" r="1.4" fill="#3c5a96" fill-opacity="0.85"/>
<circle cx="254.98" cy="355.30" r="1.4" fill="#3c5a96" fill-opacity="0.85"/>
<circle cx="281.11" cy="355.70" r="1.4" fill="#3c5a96" fill-opacity="0.85"/>
<circle cx="152.28" cy="353.10" r="1.4" fill="#3c5a96" fill-opacity="0.85"/>
<circle cx="312.68" cy="355.70" r="1.4" fill="#3c5a96" fill-opacity="0.85"/>
<circle cx="494.50" cy="356.24" r="1.4" fill="#3c5a96" fill-opacity="0.85"/>
<circle cx="279.04" cy="355.70" r="1.4" fill="#3c5a96" fill-opacity="0.85"/>
<circle cx="407.72" cy="356.24" r="1.4" fill="#3c5a96" fill-opacity="0.85"/>
<circle cx="182.04" cy="354.15" r="1.4" fill="#3c5a96" fill-opacity="0.85"/>
<circle cx="385.96" cy="356.24" r="1.4" fill="#3c5a96" fill-opacity="0.85"/>
<circle cx="411.06" cy="356.24" r="1.4" fill="#3c5a96" fill-opacity="0.85"/>
<circle cx="379.43" cy="356.24" r="1.4" fill="#3c5a96" fill-opacity="0.85"/>
<circle cx="319.14" cy="356.09" r="1.4" fill="#3c5a96" fill-opacity="0.85"/>
<circle cx="306.30" cy="355.70" r="1.4" fill="#3c5a96" fill-opacity="0.85"/>
<circle cx="367.54" cy="356.24" r="1.4" fill="#3c5a96" fill-opacity="0.85"/>
<circle cx="465.40" cy="356.24" r="1.4" fill="#3c5a96" fill-opacity="0.85"/>
<circle cx="177.69" cy="354.15" r="1.4" fill="#3c5a96" fill-opacity="0.85"/>
<circle cx="157.13" cy="353.10" r="1.4" fill="#3c5a96" fill-opacity="0.85"/>
<circle cx="408.00" cy="356.24" r="1.4" fill="#3c5a96" fill-opacity="0.85"/>
<circle cx="472.79" cy="356.24" r="1.4" fill="#3c5a96" fill-opacity="0.85"/>
<circle cx="319.20" cy="356.09" r="1.4" fill="#3c5a96" fill-opacity="0.85"/>
<circle cx="290.66" cy="355.70" r="1.4" fill="#3c5a96" fill-opacity="0.85"/>
<circle cx="396.75" cy="356.24" r="1.4" fill="#3c5a96" fill-opacity="0.85"/>
<circle cx="191.84" cy="354.88" r="1.4" fill="#3c5a96" fill-opacity="0.85"/>
<circle cx="223.09" cy="354.88" r="1.4" fill="#3c5a96" fill-opacity="0.85"/>
<circle cx="196.87" cy="354.88" r="1.4" fill="#3c5a96" fill-opacity="0.85"/>
<circle cx="345.49" cy="356.09" r="1.4" fill="#3c5a96" fill-opacity="0.85"/>
<circle cx="241.35" cy="355.30" r="1.4" fill="#3c5a96" fill-opacity="0.85"/>
<circle cx="209.61" cy="354.88" r="1.4" fill="#3c5a96" fill-opacity="0.85"/>
<circle cx="386.07" cy="356.24" r="1.4" fill="#3c5a96" fill-opacity="0.85"/>
<circle cx="486.95" cy="356.24" r="1.4" fill="#3c5a96" fill-opacity="0.85"/>
<circle cx="234.05" cy="355.30" r="1.4" fill="#3c5a96" fill-opacity="0.85"/>
<circle cx="391.53" cy="356.24" r="1.4" fill="#3c5a96" fill-opacity="0.85"/>
<circle cx="279.18" cy="355.70" r="1.4" fill="#3c5a96" fill-opacity="0.85"/>
<circle cx="448.57" cy="356.24" r="1.4" fill="#3c5a96" fill-opacity="0.85"/>
<circle cx="345.12" cy="356.09" r="1.4" fill="#3c5a96" fill-opacity="0.85"/>
<circle cx="223.02" cy="354.88" r="1.4" fill="#3c5a96" fill-opacity="0.85"/>
<circle cx="203.95" cy="354.88" r="1.4" fill="#3c5a96" fill-opacity="0.85"/>
<circle cx="129.16" cy="353.10" r="1.4" fill="#3c5a96" fill-opacity="0.85"/>
<circle cx="304.67" cy="355.70" r="1.4" fill="#3c5a96" fill-opacity="0.85"/>
<circle cx="267.47" cy="355.30" r="1.4" fill="#3c5a96" fill-opacity="0.85"/>
<circle cx="186.51" cy="354.88" r="1.4" fill="#3c5a96" fill-opacity="0.85"/>
<circle cx="258.90" cy="355.30" r="1.4" fill="#3c5a96" fill-opacity="0.85"/>
<circle cx="244.12" cy="355.30" r="1.4" fill="#3c5a96" fill-opacity="0.85"/>
<circle cx="418.02" cy="356.24" r="1.4" fill="#3c5a96" fill-opacity="0.85"/>
<circle cx="175.50" cy="354.15" r="1.4" fill="#3c5a96" fill-opacity="0.85"/>
<circle cx="501.48" cy="356.24" r="1.4" fill="#3c5a96" fill-opacity="0.85"/>
<circle cx="304.71" cy="355.70" r="1.4" fill="#3c5a96" fill-opacity="0.85"/>
<circle cx="350.64" cy="356.24" r="1.4" fill="#3c5a96" fill-opacity="0.85"/>
<circle cx="300.28" cy="355.70" r="1.4" fill="#3c5a96" fill-opacity="0.85"/>
<circle cx="441.25" cy="356.24" r="1.4" fill="#3c5a96" fill-opacity="0.85"/>
<circle cx="436.25" cy="356.24" r="1.4" fill="#3c5a96" fill-opacity="0.85"/>
<circle cx="334.53" cy="356.09" r="1.4" fill="#3c5a96" fill-opacity="0.85"/>
<circle cx="305.37" cy="355.70" r="1.4" fill="#3c5a96" fill-opacity="0.85"/>
<circle cx="397.45" cy="356.24" r="1.4" fill="#3c5a96" fill-opacity="0.85"/>
<circle cx="449.73" cy="356.24" r="1.4" fill="#3c5a96" fill-opacity="0.85"/>
<circle cx="274.20" cy="355.70" r="1.4" fill="#3c5a96" fill-opacity="0.85"/>
<circle cx="402.40" cy="356.24" r="1.4" fill="#3c5a96" fill-opacity="0.85"/>
<circle cx="489.58" cy="356.24" r="1.4" fill="#3c5a96" fill-opacity="0.85"/>
<circle cx="300.02" cy="355.70" r="1.4" fill="#3c5a96" fill-opacity="0.85"/>
<circle cx="208.57" cy="354.88" r="1.4" fill="#3c5a96" fill-opacity="0.85"/>
<circle cx="210.56" cy="354.88" r="1.4" fill="#3c5a96" fill-opacity="0.85"/>
<circle cx="396.28" cy="356.24" r="1.4" fill="#3c5a96" fill-opacity="0.85"/>
<line x1="75.00" y1="679.40" x2="75.00" y2="903.50" stroke="#000" stroke-width="1.7"/>
<line x1="74.20" y1="902.70" x2="508.80" y2="902.70" stroke="#000" stroke-width="1.7"/>
<line x1="70.20" y1="685.80" x2="75.00" y2="685.80" stroke="#000" stroke-width="1.5"/>
<text x="50.69" y="689.80" font-size="11.3" textLength="15.24" lengthAdjust="spacingAndGlyphs" fill="#111" color="#111">1.0</text>
<line x1="70.20" y1="706.76" x2="75.00" y2="706.76" stroke="#000" stroke-width="1.5"/>
<text x="50.78" y="710.76" font-size="11.3" textLength="15.24" lengthAdjust="spacingAndGlyphs" fill="#111" color="#111">0.9</text>
<line x1="70.20" y1="727.72" x2="75.00" y2="727.72" stroke="#000" stroke-width="1.5"/>
<text x="50.74" y="731.72" font-size="11.3" textLength="15.24" lengthAdjust="spacingAndGlyphs" fill="#111" color="#111">0.8</text>
<line x1="70.20" y1="748.68" x2="75.00" y2="748.68" stroke="#000" stroke-width="1.5"/>
<text x="50.81" y="752.68" font-size="11.3" textLength="15.24" lengthAdjust="spacingAndGlyphs" fill="#111" color="#111">0.7</text>
<line x1="70.20" y1="769.64" x2="75.00" y2="769.64" stroke="#000" stroke-width="1.5"/>
<text x="50.75" y="773.64" font-size="11.3" textLength="15.24" lengthAdjust="spacingAndGlyphs" fill="#111" color="#111">0.6</text>
<line x1="70.20" y1="790.60" x2="75.00" y2="790.60" stroke="#000" stroke-width="1.5"/>
<text x="50.72" y="794.60" font-size="11.3" textLength="15.24" lengthAdjust="spacingAndGlyphs" fill="#111" color="#111">0.5</text>
<line x1="70.20" y1="811.56" x2="75.00" y2="811.56" stroke="#000" stroke-width="1.5"/>
<text x="50.58" y="815.56" font-size="11.3" textLength="15.24" lengthAdjust="spacingAndGlyphs" fill="#111" color="#111">0.4</text>
<line x1="70.20" y1="832.52" x2="75.00" y2="832.52" stroke="#000" stroke-width="1.5"/>
<text x="50.75" y="836.52" font-size="11.3" textLength="15.24" lengthAdjust="spacingAndGlyphs" fill="#111" color="#111">0.3</text>
<line x1="70.20" y1="853.48" x2="75.00" y2="853.48" stroke="#000" stroke-width="1.5"/>
<text x="50.81" y="857.48" font-size="11.3" textLength="15.24" lengthAdjust="spacingAndGlyphs" fill="#111" color="#111">0.2</text>
<line x1="70.20" y1="874.44" x2="75.00" y2="874.44" stroke="#000" stroke-width="1.5"/>
<text x="50.80" y="878.44" font-size="11.3" textLength="15.24" lengthAdjust="spacingAndGlyphs" fill="#111" color="#111">0.1</text>
<line x1="70.20" y1="895.40" x2="75.00" y2="895.40" stroke="#000" stroke-width="1.5"/>
<text x="50.69" y="899.40" font-size="11.3" textLength="15.24" lengthAdjust="spacingAndGlyphs" fill="#111" color="#111">0.0</text>
<line x1="91.00" y1="902.70" x2="91.00" y2="907.50" stroke="#000" stroke-width="1.3"/>
<text x="88.05" y="921.80" font-size="11.4" textLength="5.90" lengthAdjust="spacingAndGlyphs" fill="#111" color="#111">0</text>
<line x1="191.33" y1="902.70" x2="191.33" y2="907.50" stroke="#000" stroke-width="1.3"/>
<text x="185.30" y="921.80" font-size="11.4" textLength="11.79" lengthAdjust="spacingAndGlyphs" fill="#111" color="#111">12</text>
<line x1="291.66" y1="902.70" x2="291.66" y2="907.50" stroke="#000" stroke-width="1.3"/>
<text x="285.65" y="921.80" font-size="11.4" textLength="11.79" lengthAdjust="spacingAndGlyphs" fill="#111" color="#111">24</text>
<line x1="391.99" y1="902.70" x2="391.99" y2="907.50" stroke="#000" stroke-width="1.3"/>
<text x="386.13" y="921.80" font-size="11.4" textLength="11.79" lengthAdjust="spacingAndGlyphs" fill="#111" color="#111">36</text>
<line x1="492.32" y1="902.70" x2="492.32" y2="907.50" stroke="#000" stroke-width="1.3"/>
<text x="486.53" y="921.80" font-size="11.4" textLength="11.79" lengthAdjust="spacingAndGlyphs" fill="#111" color="#111">48</text>
<text x="10.41" y="693.90" font-size="25.8" textLength="15.40" lengthAdjust="spacingAndGlyphs" fill="#000" color="#000">C</text>
<text transform="translate(40.90,849.60) rotate(-90)" x="-0.63" y="0" font-size="14.2" textLength="119.23" lengthAdjust="spacingAndGlyphs" fill="#111" color="#111">Overall survival rate</text>
<text x="248.60" y="942.00" font-size="14.0" textLength="86.98" lengthAdjust="spacingAndGlyphs" fill="#111" color="#111">Time [months]</text>
<text x="157.71" y="793.70" font-size="10.7" textLength="114.63" lengthAdjust="spacingAndGlyphs" fill="#111" color="#111">3-year estimate [95%-CI]</text>
<text x="86.79" y="813.70" font-size="10.7" textLength="30.75" lengthAdjust="spacingAndGlyphs" fill="#ad1442" color="#ad1442">DS 1-3</text>
<text x="157.62" y="813.70" font-size="10.7" textLength="110.11" lengthAdjust="spacingAndGlyphs" fill="#ad1442" color="#ad1442">98.4% [97.2% to 99.6%]</text>
<text x="86.80" y="827.10" font-size="10.7" textLength="21.58" lengthAdjust="spacingAndGlyphs" fill="#3c5a96" color="#3c5a96">DS 4</text>
<text x="157.62" y="827.10" font-size="10.7" textLength="109.40" lengthAdjust="spacingAndGlyphs" fill="#3c5a96" color="#3c5a96">96.8% [94.5% to 99.1%]</text>
<text x="86.71" y="840.60" font-size="10.7" textLength="49.17" lengthAdjust="spacingAndGlyphs" fill="#111" color="#111">Difference</text>
<text x="157.65" y="840.60" font-size="10.7" textLength="105.98" lengthAdjust="spacingAndGlyphs" fill="#111" color="#111">-1.6% [-4.2% to +1.0%]</text>
<text x="86.74" y="866.50" font-size="10.7" textLength="57.40" lengthAdjust="spacingAndGlyphs" fill="#111" color="#111">Hazard ratio</text>
<text x="157.59" y="866.50" font-size="10.7" textLength="125.00" lengthAdjust="spacingAndGlyphs" fill="#111" color="#111">2.60 [1.03 to 6.59], p = 0.04</text>
<text x="86.31" y="891.50" font-size="10.7" textLength="171.07" lengthAdjust="spacingAndGlyphs" fill="#111" color="#111">Median observation time 39 months</text>
<text x="63.98" y="959.90" font-size="10.6" textLength="46.82" lengthAdjust="spacingAndGlyphs" fill="#111" color="#111">Pts. at risk</text>
<text x="78.76" y="973.30" font-size="10.2" textLength="17.72" lengthAdjust="spacingAndGlyphs" fill="#ad1442" color="#ad1442">486</text>
<text x="180.76" y="973.30" font-size="10.2" textLength="17.75" lengthAdjust="spacingAndGlyphs" fill="#ad1442" color="#ad1442">459</text>
<text x="282.76" y="973.30" font-size="10.2" textLength="17.71" lengthAdjust="spacingAndGlyphs" fill="#ad1442" color="#ad1442">408</text>
<text x="384.56" y="973.30" font-size="10.2" textLength="17.96" lengthAdjust="spacingAndGlyphs" fill="#ad1442" color="#ad1442">270</text>
<text x="486.17" y="973.30" font-size="10.2" textLength="18.32" lengthAdjust="spacingAndGlyphs" fill="#ad1442" color="#ad1442">166</text>
<text x="78.46" y="987.00" font-size="10.2" textLength="18.02" lengthAdjust="spacingAndGlyphs" fill="#3c5a96" color="#3c5a96">236</text>
<text x="180.46" y="987.00" font-size="10.2" textLength="18.02" lengthAdjust="spacingAndGlyphs" fill="#3c5a96" color="#3c5a96">223</text>
<text x="282.16" y="987.00" font-size="10.2" textLength="18.39" lengthAdjust="spacingAndGlyphs" fill="#3c5a96" color="#3c5a96">197</text>
<text x="384.27" y="987.00" font-size="10.2" textLength="18.26" lengthAdjust="spacingAndGlyphs" fill="#3c5a96" color="#3c5a96">120</text>
<text x="489.23" y="987.00" font-size="10.2" textLength="12.47" lengthAdjust="spacingAndGlyphs" fill="#3c5a96" color="#3c5a96">73</text>
<path d="M91.00,685.80H164.99V687.71H178.79V689.01H186.31V689.59H223.10V690.60H315.91V692.30H509.04V692.30" fill="none" stroke="#44609b" stroke-width="1.6"/>
<path d="M118.59,686.30H213.90V687.64H356.87V689.05H509.04V689.05" fill="none" stroke="#c0143c" stroke-width="1.6"/>
<circle cx="380.00" cy="692.30" r="1.4" fill="#3c5a96" fill-opacity="0.85"/>
<circle cx="488.98" cy="692.30" r="1.4" fill="#3c5a96" fill-opacity="0.85"/>
<circle cx="448.66" cy="692.30" r="1.4" fill="#3c5a96" fill-opacity="0.85"/>
<circle cx="213.37" cy="689.59" r="1.4" fill="#3c5a96" fill-opacity="0.85"/>
<circle cx="193.19" cy="689.59" r="1.4" fill="#3c5a96" fill-opacity="0.85"/>
<circle cx="219.73" cy="689.59" r="1.4" fill="#3c5a96" fill-opacity="0.85"/>
<circle cx="192.25" cy="689.59" r="1.4" fill="#3c5a96" fill-opacity="0.85"/>
<circle cx="391.30" cy="692.30" r="1.4" fill="#3c5a96" fill-opacity="0.85"/>
<circle cx="450.48" cy="692.30" r="1.4" fill="#3c5a96" fill-opacity="0.85"/>
<circle cx="466.31" cy="692.30" r="1.4" fill="#3c5a96" fill-opacity="0.85"/>
<circle cx="218.34" cy="689.59" r="1.4" fill="#3c5a96" fill-opacity="0.85"/>
<circle cx="452.98" cy="692.30" r="1.4" fill="#3c5a96" fill-opacity="0.85"/>
<circle cx="240.80" cy="690.60" r="1.4" fill="#3c5a96" fill-opacity="0.85"/>
<circle cx="283.06" cy="690.60" r="1.4" fill="#3c5a96" fill-opacity="0.85"/>
<circle cx="400.62" cy="692.30" r="1.4" fill="#3c5a96" fill-opacity="0.85"/>
<circle cx="153.31" cy="685.80" r="1.4" fill="#3c5a96" fill-opacity="0.85"/>
<circle cx="155.89" cy="685.80" r="1.4" fill="#3c5a96" fill-opacity="0.85"/>
<circle cx="440.99" cy="692.30" r="1.4" fill="#3c5a96" fill-opacity="0.85"/>
<circle cx="232.47" cy="690.60" r="1.4" fill="#3c5a96" fill-opacity="0.85"/>
<circle cx="257.43" cy="690.60" r="1.4" fill="#3c5a96" fill-opacity="0.85"/>
<circle cx="343.45" cy="692.30" r="1.4" fill="#3c5a96" fill-opacity="0.85"/>
<circle cx="380.06" cy="692.30" r="1.4" fill="#3c5a96" fill-opacity="0.85"/>
<circle cx="122.91" cy="685.80" r="1.4" fill="#3c5a96" fill-opacity="0.85"/>
<circle cx="249.03" cy="690.60" r="1.4" fill="#3c5a96" fill-opacity="0.85"/>
<circle cx="288.03" cy="690.60" r="1.4" fill="#3c5a96" fill-opacity="0.85"/>
<circle cx="307.14" cy="690.60" r="1.4" fill="#3c5a96" fill-opacity="0.85"/>
<circle cx="201.07" cy="689.59" r="1.4" fill="#3c5a96" fill-opacity="0.85"/>
<circle cx="345.29" cy="692.30" r="1.4" fill="#3c5a96" fill-opacity="0.85"/>
<circle cx="487.68" cy="692.30" r="1.4" fill="#3c5a96" fill-opacity="0.85"/>
<circle cx="270.61" cy="690.60" r="1.4" fill="#3c5a96" fill-opacity="0.85"/>
<circle cx="329.62" cy="692.30" r="1.4" fill="#3c5a96" fill-opacity="0.85"/>
<circle cx="166.10" cy="687.71" r="1.4" fill="#3c5a96" fill-opacity="0.85"/>
<circle cx="225.94" cy="690.60" r="1.4" fill="#3c5a96" fill-opacity="0.85"/>
<circle cx="376.19" cy="692.30" r="1.4" fill="#3c5a96" fill-opacity="0.85"/>
<circle cx="163.54" cy="685.80" r="1.4" fill="#3c5a96" fill-opacity="0.85"/>
<circle cx="461.47" cy="692.30" r="1.4" fill="#3c5a96" fill-opacity="0.85"/>
<circle cx="469.77" cy="692.30" r="1.4" fill="#3c5a96" fill-opacity="0.85"/>
<circle cx="157.53" cy="685.80" r="1.4" fill="#3c5a96" fill-opacity="0.85"/>
<circle cx="482.28" cy="692.30" r="1.4" fill="#3c5a96" fill-opacity="0.85"/>
<circle cx="264.19" cy="690.60" r="1.4" fill="#3c5a96" fill-opacity="0.85"/>
<circle cx="417.33" cy="692.30" r="1.4" fill="#3c5a96" fill-opacity="0.85"/>
<circle cx="411.53" cy="692.30" r="1.4" fill="#3c5a96" fill-opacity="0.85"/>
<circle cx="233.92" cy="690.60" r="1.4" fill="#3c5a96" fill-opacity="0.85"/>
<circle cx="380.21" cy="692.30" r="1.4" fill="#3c5a96" fill-opacity="0.85"/>
<circle cx="371.82" cy="692.30" r="1.4" fill="#3c5a96" fill-opacity="0.85"/>
<circle cx="430.27" cy="692.30" r="1.4" fill="#3c5a96" fill-opacity="0.85"/>
<circle cx="222.41" cy="689.59" r="1.4" fill="#3c5a96" fill-opacity="0.85"/>
<circle cx="410.32" cy="692.30" r="1.4" fill="#3c5a96" fill-opacity="0.85"/>
<circle cx="489.99" cy="692.30" r="1.4" fill="#3c5a96" fill-opacity="0.85"/>
<circle cx="379.03" cy="692.30" r="1.4" fill="#3c5a96" fill-opacity="0.85"/>
<circle cx="326.47" cy="692.30" r="1.4" fill="#3c5a96" fill-opacity="0.85"/>
<circle cx="163.84" cy="685.80" r="1.4" fill="#3c5a96" fill-opacity="0.85"/>
<circle cx="310.21" cy="690.60" r="1.4" fill="#3c5a96" fill-opacity="0.85"/>
<circle cx="255.70" cy="690.60" r="1.4" fill="#3c5a96" fill-opacity="0.85"/>
<circle cx="396.44" cy="692.30" r="1.4" fill="#3c5a96" fill-opacity="0.85"/>
<circle cx="381.23" cy="692.30" r="1.4" fill="#3c5a96" fill-opacity="0.85"/>
<circle cx="338.10" cy="692.30" r="1.4" fill="#3c5a96" fill-opacity="0.85"/>
<circle cx="190.25" cy="689.59" r="1.4" fill="#3c5a96" fill-opacity="0.85"/>
<circle cx="368.59" cy="692.30" r="1.4" fill="#3c5a96" fill-opacity="0.85"/>
<circle cx="362.90" cy="692.30" r="1.4" fill="#3c5a96" fill-opacity="0.85"/>
<circle cx="189.15" cy="689.59" r="1.4" fill="#3c5a96" fill-opacity="0.85"/>
<circle cx="462.52" cy="692.30" r="1.4" fill="#3c5a96" fill-opacity="0.85"/>
<circle cx="372.32" cy="692.30" r="1.4" fill="#3c5a96" fill-opacity="0.85"/>
<circle cx="167.62" cy="687.71" r="1.4" fill="#3c5a96" fill-opacity="0.85"/>
<circle cx="478.65" cy="692.30" r="1.4" fill="#3c5a96" fill-opacity="0.85"/>
<circle cx="174.64" cy="687.71" r="1.4" fill="#3c5a96" fill-opacity="0.85"/>
<circle cx="247.77" cy="690.60" r="1.4" fill="#3c5a96" fill-opacity="0.85"/>
<circle cx="397.36" cy="692.30" r="1.4" fill="#3c5a96" fill-opacity="0.85"/>
<circle cx="350.03" cy="692.30" r="1.4" fill="#3c5a96" fill-opacity="0.85"/>
<circle cx="333.69" cy="692.30" r="1.4" fill="#3c5a96" fill-opacity="0.85"/>
<circle cx="369.29" cy="692.30" r="1.4" fill="#3c5a96" fill-opacity="0.85"/>
<circle cx="296.30" cy="690.60" r="1.4" fill="#3c5a96" fill-opacity="0.85"/>
<circle cx="240.43" cy="690.60" r="1.4" fill="#3c5a96" fill-opacity="0.85"/>
<circle cx="188.10" cy="689.59" r="1.4" fill="#3c5a96" fill-opacity="0.85"/>
<circle cx="146.64" cy="685.80" r="1.4" fill="#3c5a96" fill-opacity="0.85"/>
<circle cx="395.57" cy="692.30" r="1.4" fill="#3c5a96" fill-opacity="0.85"/>
<circle cx="410.43" cy="692.30" r="1.4" fill="#3c5a96" fill-opacity="0.85"/>
<circle cx="329.15" cy="692.30" r="1.4" fill="#3c5a96" fill-opacity="0.85"/>
<circle cx="404.73" cy="692.30" r="1.4" fill="#3c5a96" fill-opacity="0.85"/>
<circle cx="258.42" cy="690.60" r="1.4" fill="#3c5a96" fill-opacity="0.85"/>
<circle cx="222.51" cy="689.59" r="1.4" fill="#3c5a96" fill-opacity="0.85"/>
<circle cx="267.71" cy="690.60" r="1.4" fill="#3c5a96" fill-opacity="0.85"/>
<circle cx="455.84" cy="692.30" r="1.4" fill="#3c5a96" fill-opacity="0.85"/>
<circle cx="136.46" cy="685.80" r="1.4" fill="#3c5a96" fill-opacity="0.85"/>
<circle cx="314.37" cy="690.60" r="1.4" fill="#3c5a96" fill-opacity="0.85"/>
<circle cx="214.70" cy="687.64" r="1.4" fill="#ad1442" fill-opacity="0.85"/>
<circle cx="415.79" cy="689.05" r="1.4" fill="#ad1442" fill-opacity="0.85"/>
<circle cx="255.91" cy="687.64" r="1.4" fill="#ad1442" fill-opacity="0.85"/>
<circle cx="247.72" cy="687.64" r="1.4" fill="#ad1442" fill-opacity="0.85"/>
<circle cx="274.89" cy="687.64" r="1.4" fill="#ad1442" fill-opacity="0.85"/>
<circle cx="328.14" cy="687.64" r="1.4" fill="#ad1442" fill-opacity="0.85"/>
<circle cx="416.87" cy="689.05" r="1.4" fill="#ad1442" fill-opacity="0.85"/>
<circle cx="255.44" cy="687.64" r="1.4" fill="#ad1442" fill-opacity="0.85"/>
<circle cx="445.84" cy="689.05" r="1.4" fill="#ad1442" fill-opacity="0.85"/>
<circle cx="162.65" cy="686.30" r="1.4" fill="#ad1442" fill-opacity="0.85"/>
<circle cx="223.68" cy="687.64" r="1.4" fill="#ad1442" fill-opacity="0.85"/>
<circle cx="157.83" cy="686.30" r="1.4" fill="#ad1442" fill-opacity="0.85"/>
<circle cx="162.86" cy="686.30" r="1.4" fill="#ad1442" fill-opacity="0.85"/>
<circle cx="419.67" cy="689.05" r="1.4" fill="#ad1442" fill-opacity="0.85"/>
<circle cx="399.75" cy="689.05" r="1.4" fill="#ad1442" fill-opacity="0.85"/>
<circle cx="190.67" cy="686.30" r="1.4" fill="#ad1442" fill-opacity="0.85"/>
<circle cx="192.34" cy="686.30" r="1.4" fill="#ad1442" fill-opacity="0.85"/>
<circle cx="280.02" cy="687.64" r="1.4" fill="#ad1442" fill-opacity="0.85"/>
<circle cx="405.93" cy="689.05" r="1.4" fill="#ad1442" fill-opacity="0.85"/>
<circle cx="433.84" cy="689.05" r="1.4" fill="#ad1442" fill-opacity="0.85"/>
<circle cx="408.00" cy="689.05" r="1.4" fill="#ad1442" fill-opacity="0.85"/>
<circle cx="347.57" cy="687.64" r="1.4" fill="#ad1442" fill-opacity="0.85"/>
<circle cx="175.88" cy="686.30" r="1.4" fill="#ad1442" fill-opacity="0.85"/>
<circle cx="272.99" cy="687.64" r="1.4" fill="#ad1442" fill-opacity="0.85"/>
<circle cx="194.06" cy="686.30" r="1.4" fill="#ad1442" fill-opacity="0.85"/>
<circle cx="322.78" cy="687.64" r="1.4" fill="#ad1442" fill-opacity="0.85"/>
<circle cx="338.50" cy="687.64" r="1.4" fill="#ad1442" fill-opacity="0.85"/>
<circle cx="197.31" cy="686.30" r="1.4" fill="#ad1442" fill-opacity="0.85"/>
<circle cx="215.84" cy="687.64" r="1.4" fill="#ad1442" fill-opacity="0.85"/>
<circle cx="420.71" cy="689.05" r="1.4" fill="#ad1442" fill-opacity="0.85"/>
<circle cx="131.02" cy="686.30" r="1.4" fill="#ad1442" fill-opacity="0.85"/>
<circle cx="428.99" cy="689.05" r="1.4" fill="#ad1442" fill-opacity="0.85"/>
<circle cx="462.93" cy="689.05" r="1.4" fill="#ad1442" fill-opacity="0.85"/>
<circle cx="485.33" cy="689.05" r="1.4" fill="#ad1442" fill-opacity="0.85"/>
<circle cx="267.10" cy="687.64" r="1.4" fill="#ad1442" fill-opacity="0.85"/>
<circle cx="332.42" cy="687.64" r="1.4" fill="#ad1442" fill-opacity="0.85"/>
<circle cx="344.16" cy="687.64" r="1.4" fill="#ad1442" fill-opacity="0.85"/>
<circle cx="363.65" cy="689.05" r="1.4" fill="#ad1442" fill-opacity="0.85"/>
<circle cx="495.99" cy="689.05" r="1.4" fill="#ad1442" fill-opacity="0.85"/>
<circle cx="384.08" cy="689.05" r="1.4" fill="#ad1442" fill-opacity="0.85"/>
<circle cx="234.83" cy="687.64" r="1.4" fill="#ad1442" fill-opacity="0.85"/>
<circle cx="450.90" cy="689.05" r="1.4" fill="#ad1442" fill-opacity="0.85"/>
<circle cx="306.00" cy="687.64" r="1.4" fill="#ad1442" fill-opacity="0.85"/>
<circle cx="351.21" cy="687.64" r="1.4" fill="#ad1442" fill-opacity="0.85"/>
<circle cx="399.57" cy="689.05" r="1.4" fill="#ad1442" fill-opacity="0.85"/>
<circle cx="120.34" cy="686.30" r="1.4" fill="#ad1442" fill-opacity="0.85"/>
<circle cx="416.39" cy="689.05" r="1.4" fill="#ad1442" fill-opacity="0.85"/>
<circle cx="374.56" cy="689.05" r="1.4" fill="#ad1442" fill-opacity="0.85"/>
<circle cx="309.01" cy="687.64" r="1.4" fill="#ad1442" fill-opacity="0.85"/>
<circle cx="321.26" cy="687.64" r="1.4" fill="#ad1442" fill-opacity="0.85"/>
<circle cx="296.93" cy="687.64" r="1.4" fill="#ad1442" fill-opacity="0.85"/>
<circle cx="193.98" cy="686.30" r="1.4" fill="#ad1442" fill-opacity="0.85"/>
<circle cx="323.53" cy="687.64" r="1.4" fill="#ad1442" fill-opacity="0.85"/>
<circle cx="133.71" cy="686.30" r="1.4" fill="#ad1442" fill-opacity="0.85"/>
<circle cx="312.32" cy="687.64" r="1.4" fill="#ad1442" fill-opacity="0.85"/>
<circle cx="368.40" cy="689.05" r="1.4" fill="#ad1442" fill-opacity="0.85"/>
<circle cx="290.65" cy="687.64" r="1.4" fill="#ad1442" fill-opacity="0.85"/>
<circle cx="337.58" cy="687.64" r="1.4" fill="#ad1442" fill-opacity="0.85"/>
<circle cx="489.07" cy="689.05" r="1.4" fill="#ad1442" fill-opacity="0.85"/>
<circle cx="463.25" cy="689.05" r="1.4" fill="#ad1442" fill-opacity="0.85"/>
<circle cx="171.69" cy="686.30" r="1.4" fill="#ad1442" fill-opacity="0.85"/>
<circle cx="424.84" cy="689.05" r="1.4" fill="#ad1442" fill-opacity="0.85"/>
<circle cx="359.66" cy="689.05" r="1.4" fill="#ad1442" fill-opacity="0.85"/>
<circle cx="138.93" cy="686.30" r="1.4" fill="#ad1442" fill-opacity="0.85"/>
<circle cx="258.15" cy="687.64" r="1.4" fill="#ad1442" fill-opacity="0.85"/>
<circle cx="209.39" cy="686.30" r="1.4" fill="#ad1442" fill-opacity="0.85"/>
<circle cx="149.43" cy="686.30" r="1.4" fill="#ad1442" fill-opacity="0.85"/>
<circle cx="327.13" cy="687.64" r="1.4" fill="#ad1442" fill-opacity="0.85"/>
<circle cx="477.81" cy="689.05" r="1.4" fill="#ad1442" fill-opacity="0.85"/>
<circle cx="243.97" cy="687.64" r="1.4" fill="#ad1442" fill-opacity="0.85"/>
<circle cx="454.95" cy="689.05" r="1.4" fill="#ad1442" fill-opacity="0.85"/>
<circle cx="387.17" cy="689.05" r="1.4" fill="#ad1442" fill-opacity="0.85"/>
<circle cx="171.21" cy="686.30" r="1.4" fill="#ad1442" fill-opacity="0.85"/>
<circle cx="450.24" cy="689.05" r="1.4" fill="#ad1442" fill-opacity="0.85"/>
<circle cx="351.12" cy="687.64" r="1.4" fill="#ad1442" fill-opacity="0.85"/>
<circle cx="476.72" cy="689.05" r="1.4" fill="#ad1442" fill-opacity="0.85"/>
<circle cx="395.38" cy="689.05" r="1.4" fill="#ad1442" fill-opacity="0.85"/>
<circle cx="404.54" cy="689.05" r="1.4" fill="#ad1442" fill-opacity="0.85"/>
<circle cx="251.86" cy="687.64" r="1.4" fill="#ad1442" fill-opacity="0.85"/>
<circle cx="430.35" cy="689.05" r="1.4" fill="#ad1442" fill-opacity="0.85"/>
<circle cx="478.55" cy="689.05" r="1.4" fill="#ad1442" fill-opacity="0.85"/>
<circle cx="451.46" cy="689.05" r="1.4" fill="#ad1442" fill-opacity="0.85"/>
<circle cx="287.87" cy="687.64" r="1.4" fill="#ad1442" fill-opacity="0.85"/>
<circle cx="411.14" cy="689.05" r="1.4" fill="#ad1442" fill-opacity="0.85"/>
<circle cx="306.36" cy="687.64" r="1.4" fill="#ad1442" fill-opacity="0.85"/>
<circle cx="161.49" cy="686.30" r="1.4" fill="#ad1442" fill-opacity="0.85"/>
<circle cx="135.89" cy="686.30" r="1.4" fill="#ad1442" fill-opacity="0.85"/>
<circle cx="149.47" cy="686.30" r="1.4" fill="#ad1442" fill-opacity="0.85"/>
<circle cx="196.63" cy="686.30" r="1.4" fill="#ad1442" fill-opacity="0.85"/>
<circle cx="181.41" cy="686.30" r="1.4" fill="#ad1442" fill-opacity="0.85"/>
<circle cx="311.04" cy="687.64" r="1.4" fill="#ad1442" fill-opacity="0.85"/>
<circle cx="388.95" cy="689.05" r="1.4" fill="#ad1442" fill-opacity="0.85"/>
<circle cx="326.57" cy="687.64" r="1.4" fill="#ad1442" fill-opacity="0.85"/>
<circle cx="282.12" cy="687.64" r="1.4" fill="#ad1442" fill-opacity="0.85"/>
<circle cx="369.67" cy="689.05" r="1.4" fill="#ad1442" fill-opacity="0.85"/>
<g shape-rendering="crispEdges">
<rect x="0" y="0" width="520" height="2" fill="#000"/>
<rect x="0" y="998" width="520" height="2" fill="#1a1a1a"/>
<rect x="0" y="0" width="1" height="1000" fill="#444"/>
<rect x="1" y="0" width="1" height="1000" fill="#000"/>
<rect x="518" y="0" width="1" height="1000" fill="#111"/>
<rect x="519" y="0" width="1" height="1000" fill="#4a4a4a"/>
</g>
</svg>

</body></html>
